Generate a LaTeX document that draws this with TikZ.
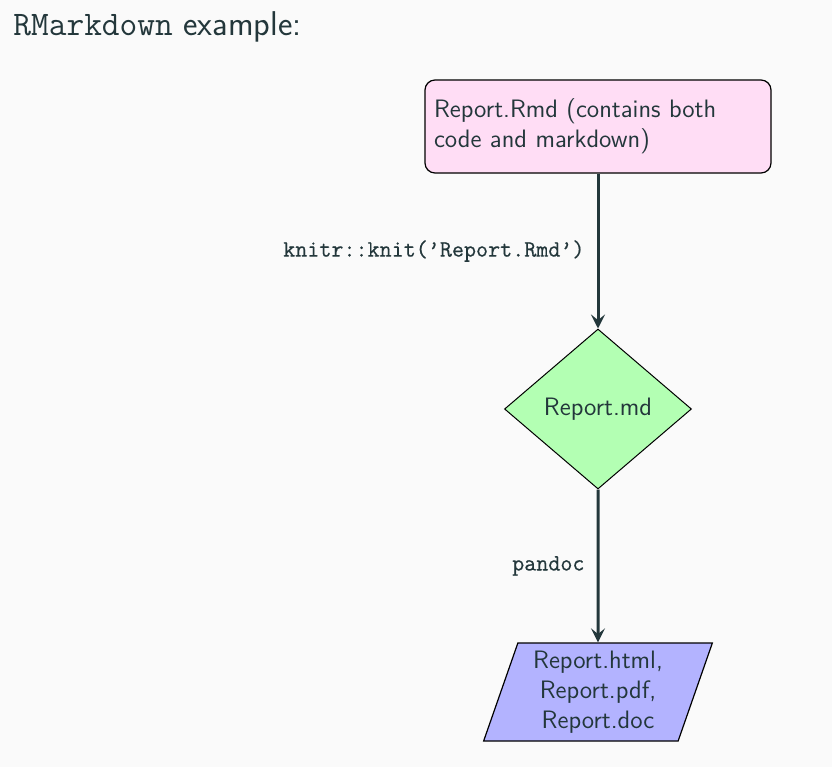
\documentclass[tikz,border=0pt]{standalone}
\usepackage{fontspec}
\newfontfamily\labelmono[FakeBold=0.5]{Latin Modern Mono}
\usetikzlibrary{shapes.geometric,arrows.meta}
\definecolor{bg}{HTML}{FAFAFA}
\definecolor{fg}{HTML}{23373B}
\definecolor{pinkfill}{HTML}{FFDDF5}
\definecolor{greenfill}{HTML}{B3FFB3}
\definecolor{bluefill}{HTML}{B3B3FF}
\begin{document}
\begin{tikzpicture}[x=0.5pt,y=-0.5pt,
  every node/.style={text=fg, font=\sffamily\fontsize{12.6}{15}\selectfont},
  startbox/.style={draw=black, line width=0.6pt, rounded corners=5pt, fill=pinkfill,
    minimum width=173pt, minimum height=46.5pt, text width=164pt, align=left, inner sep=0pt},
  decisionbox/.style={diamond, draw=black, line width=0.5pt, fill=greenfill,
    minimum width=93.5pt, minimum height=80pt, inner sep=0pt},
  iobox/.style={trapezium, trapezium left angle=71.4, trapezium right angle=108.6,
    trapezium stretches=true, draw=black, line width=0.6pt, fill=bluefill,
    minimum width=114.5pt, minimum height=49pt, inner sep=0pt, align=center},
  conn/.style={draw=fg, line width=1.5pt, -{Stealth[length=7pt,width=7pt,inset=2.8pt]}},
  edgelabel/.style={font=\labelmono\fontsize{11.7}{15}\selectfont, inner sep=6pt}
]
\fill[bg] (0,0) rectangle (832,767);
\useasboundingbox (0,0) rectangle (832,767);

\node[anchor=base west, inner sep=0pt, font=\sffamily\fontsize{17.2}{20}\selectfont] (title) at (13,35)
  {\texttt{RMarkdown} example:};

\node[startbox] (rmd) at (598,126.5) {Report.Rmd (contains both\\code and markdown)};
\node[decisionbox] (md) at (598,409) {Report.md};
\node[iobox] (out) at (598,692) {Report.html,\\Report.pdf,\\Report.doc};

\draw[conn] (rmd) -- node[left, edgelabel] (lab1) {knitr::knit(’Report.Rmd’)} (md);
\draw[conn] (md) -- node[left, edgelabel] (lab2) {pandoc} (out);
\end{tikzpicture}
\end{document}
